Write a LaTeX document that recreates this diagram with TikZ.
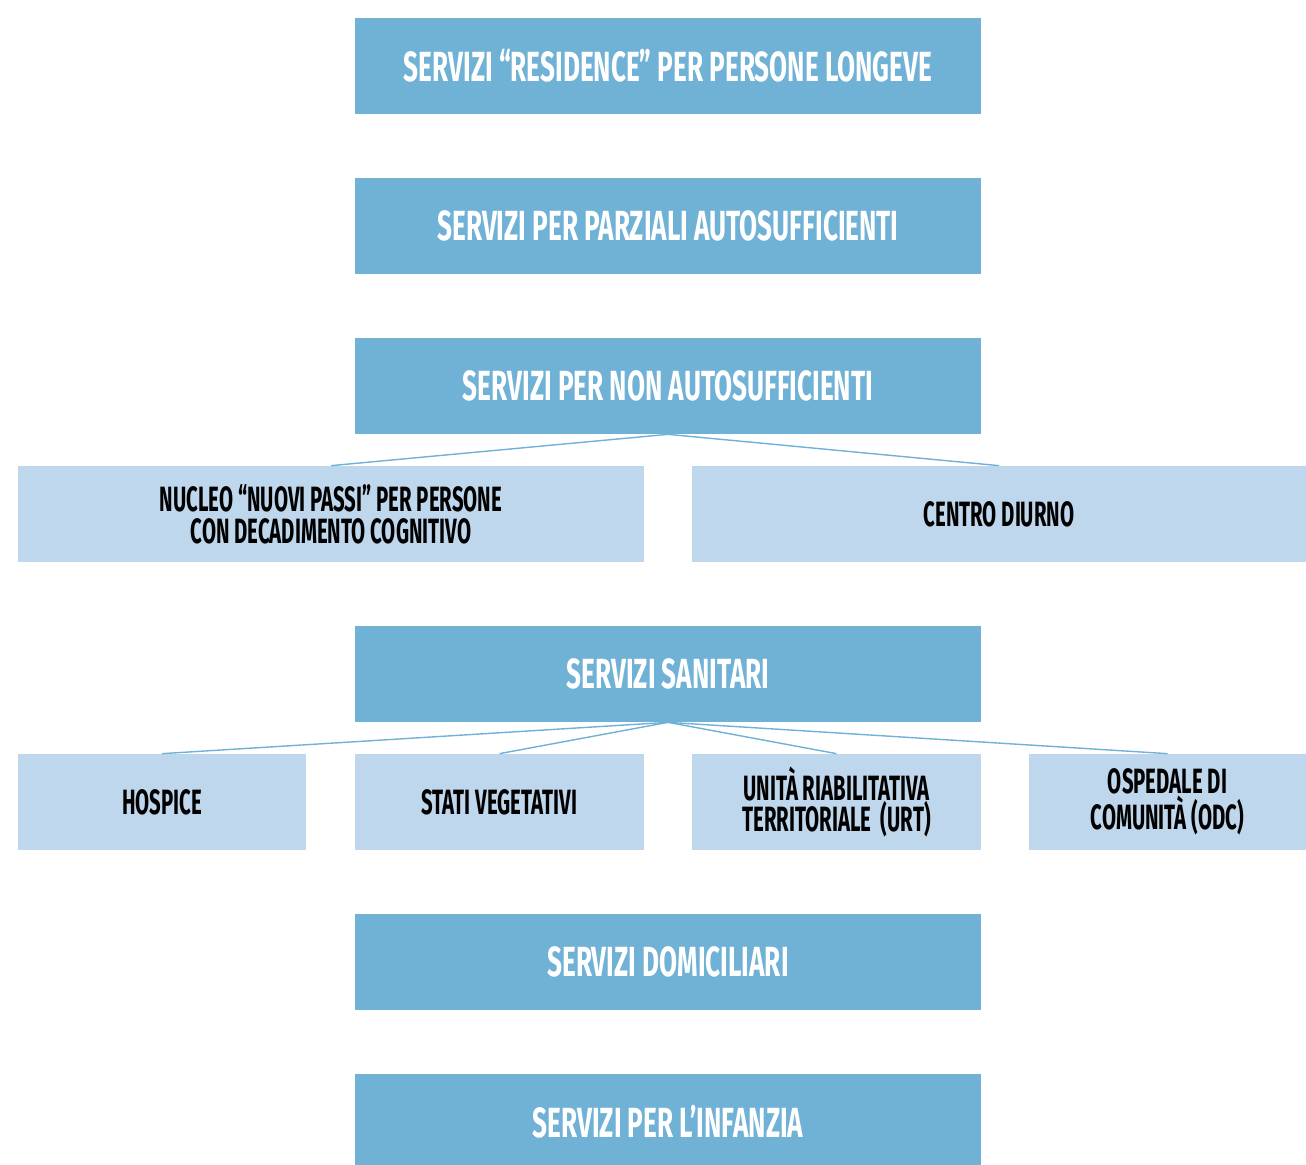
\documentclass[tikz,border=0pt]{standalone}
\usepackage{fontspec}
\newfontfamily\condfont[FakeStretch=0.62]{Fira Sans}
\newfontfamily\subfont[FakeStretch=0.58]{Fira Sans}
\definecolor{darkbox}{HTML}{70B1D6}
\definecolor{lightbox}{HTML}{BED7EC}
\tikzset{
    mainbox/.style={fill=darkbox, text=white, minimum width=12.52cm, minimum height=1.92cm,
        inner sep=0pt, align=center, font=\condfont\bfseries\fontsize{24}{26}\selectfont},
    subbox/.style={fill=lightbox, text=black, minimum height=1.92cm, inner sep=0pt,
        align=center, font=\subfont\bfseries\fontsize{20}{18.2}\selectfont},
    link/.style={draw=darkbox, line width=0.8pt}
}
\begin{document}
\begin{tikzpicture}[x=0.02cm, y=-0.02cm]
% page frame in pixels of the reference
\useasboundingbox (0,0) rectangle (1306,1165);

% main services, one below the other
\node[mainbox] (res)     at (668,66)   {SERVIZI “RESIDENCE” PER PERSONE LONGEVE};
\node[mainbox] (parz)    at (668,226)  {SERVIZI PER PARZIALI AUTOSUFFICIENTI};
\node[mainbox] (nonauto) at (668,386)  {SERVIZI PER NON AUTOSUFFICIENTI};
\node[mainbox] (sanit)   at (668,674)  {SERVIZI SANITARI};
\node[mainbox] (domic)   at (668,962)  {SERVIZI DOMICILIARI};
\node[mainbox] (infanzia) at (668,1122) {SERVIZI PER L’INFANZIA};

% under the non autosufficienti
\node[subbox, minimum width=12.52cm] (nucleo) at (331,514)
    {NUCLEO “NUOVI PASSI” PER PERSONE\\CON DECADIMENTO COGNITIVO};
\node[subbox, minimum width=12.28cm] (diurno) at (999,514) {CENTRO DIURNO};

% under the sanitari
\node[subbox, minimum width=5.76cm] (hosp)  at (162,802)    {HOSPICE};
\node[subbox, minimum width=5.78cm] (stati) at (499.5,802)  {STATI VEGETATIVI};
\node[subbox, minimum width=5.78cm] (urt)   at (836.5,802)  {UNITÀ RIABILITATIVA\\TERRITORIALE~~(URT)};
\node[subbox, minimum width=5.54cm] (odc)   at (1167.5,802) {OSPEDALE DI\\COMUNITÀ (ODC)};

% connectors
\foreach \child in {nucleo,diurno} {
    \draw[link] (nonauto.south) -- (\child.north);
}
\foreach \child in {hosp,stati,urt,odc} {
    \draw[link] (sanit.south) -- (\child.north);
}

\end{tikzpicture}
\end{document}
